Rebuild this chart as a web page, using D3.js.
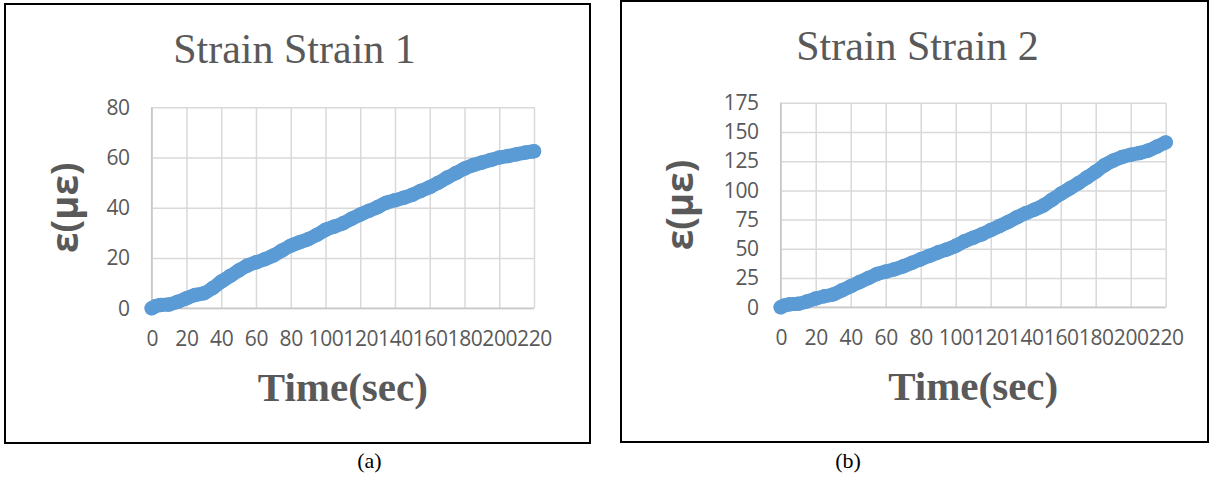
<!DOCTYPE html>
<html>
<head>
<meta charset="utf-8">
<script src="https://cdn.jsdelivr.net/npm/d3@7"></script>
<style>
  body { margin: 0; background: #fff; }
  svg { display: block; }
</style>
</head>
<body>
<div id="chart"></div>
<script>
"use strict";

// values
const timeSec = [0, 2, 5, 10, 15, 20, 25, 30, 35, 40, 45, 50, 55, 60, 65, 70, 75, 80, 85, 90, 95, 100,
  105, 110, 115, 120, 125, 130, 135, 140, 145, 150, 155, 160, 165, 170, 175, 180, 185, 190, 195, 200,
  205, 210, 215, 220];
const strain1 = [0, 0.8, 1.3, 1.5, 2.6, 4.0, 5.3, 6.0, 8.0, 10.6, 12.8, 15.0, 17.0, 18.3, 19.5, 21.0,
  23.0, 24.9, 26.3, 27.5, 29.2, 31.2, 32.5, 33.8, 35.6, 37.3, 38.8, 40.3, 42.0, 43.0, 44.0, 45.2, 46.8,
  48.2, 50.0, 52.0, 53.8, 55.6, 57.0, 58.0, 59.0, 60.0, 60.6, 61.3, 62.0, 62.5];
const strain2 = [0, 1.5, 2.5, 3.0, 5.0, 7.5, 9.5, 11.0, 14.5, 18.0, 21.5, 25.0, 28.5, 30.5, 32.5, 35.0,
  38.0, 41.0, 44.0, 47.0, 49.5, 52.5, 56.5, 59.5, 62.5, 66.0, 69.5, 73.0, 77.0, 80.5, 83.5, 87.0, 92.0,
  97.0, 101.5, 106.0, 111.0, 116.0, 121.5, 125.5, 128.5, 130.5, 132.0, 134.0, 137.5, 141.0];
const xTicks = [0, 20, 40, 60, 80, 100, 120, 140, 160, 180, 200, 220];
const yTicks1 = [0, 20, 40, 60, 80];
const yTicks2 = [0, 25, 50, 75, 100, 125, 150, 175];
const titles = ["Strain Strain 1", "Strain Strain 2"];
const captions = ["(a)", "(b)"];
const xTitle = "Time(sec)";
const yTitle = "ε(με)";

const width = 1213;
const height = 479;
const blue = "#5b9bd5";
const textGray = "#595959";

const panels = [
  {
    frame: { x: 5, y: 4, w: 585, h: 439 },
    plot: { l: 151.7, t: 107.3, r: 534, b: 308.3 },
    titleX: 294.5, titleY: 63, xTitleY: 401, yTitleX: 67, captionX: 369.5,
    values: strain1, yTicks: yTicks1, title: titles[0], caption: captions[0],
  },
  {
    frame: { x: 621, y: 1, w: 587, h: 441 },
    plot: { l: 780.7, t: 102.7, r: 1165.7, b: 307.3 },
    titleX: 917.5, titleY: 60, xTitleY: 400, yTitleX: 682, captionX: 848,
    values: strain2, yTicks: yTicks2, title: titles[1], caption: captions[1],
  },
];

const svg = d3.select("#chart").append("svg").attr("width", width).attr("height", height);

panels.forEach((p) => {
  const g = svg.append("g");

  g.append("rect")
    .attr("x", p.frame.x)
    .attr("y", p.frame.y)
    .attr("width", p.frame.w)
    .attr("height", p.frame.h)
    .attr("fill", "none")
    .attr("stroke", "#000")
    .attr("stroke-width", 2);

  const x = d3.scaleLinear().domain([xTicks[0], xTicks[xTicks.length - 1]]).range([p.plot.l, p.plot.r]);
  const y = d3.scaleLinear().domain([p.yTicks[0], p.yTicks[p.yTicks.length - 1]]).range([p.plot.b, p.plot.t]);
  const innerW = p.plot.r - p.plot.l;
  const innerH = p.plot.b - p.plot.t;

  const yAxis = g.append("g")
    .attr("transform", `translate(${p.plot.l},0)`)
    .call(d3.axisLeft(y).tickValues(p.yTicks).tickSize(-innerW).tickPadding(22));
  const xAxis = g.append("g")
    .attr("transform", `translate(0,${p.plot.b})`)
    .call(d3.axisBottom(x).tickValues(xTicks).tickSize(-innerH).tickPadding(23));

  [yAxis, xAxis].forEach((ax) => {
    ax.select(".domain").remove();
    ax.selectAll("line").attr("stroke", "#d9d9d9").attr("stroke-width", 1.5);
    ax.selectAll("text")
      .attr("fill", textGray)
      .style("font-family", "'Open Sans', sans-serif")
      .style("font-size", "21px")
      .style("letter-spacing", "-0.4px");
  });
  yAxis.selectAll("text").attr("dy", "0.32em");

  // plot-area left/bottom edges a touch darker
  g.append("line")
    .attr("x1", p.plot.l).attr("x2", p.plot.l).attr("y1", p.plot.t).attr("y2", p.plot.b)
    .attr("stroke", "#c8c8c8").attr("stroke-width", 1.5);
  g.append("line")
    .attr("x1", p.plot.l).attr("x2", p.plot.r).attr("y1", p.plot.b).attr("y2", p.plot.b)
    .attr("stroke", "#c8c8c8").attr("stroke-width", 1.5);

  const pts = timeSec.map((t, i) => ({ t, v: p.values[i] }));
  const line = d3.line().x((d) => x(d.t)).y((d) => y(d.v)).curve(d3.curveMonotoneX);

  g.append("path")
    .datum(pts)
    .attr("d", line)
    .attr("fill", "none")
    .attr("stroke", blue)
    .attr("stroke-width", 14)
    .attr("stroke-linecap", "round")
    .attr("stroke-linejoin", "round");

  g.append("g")
    .selectAll("circle")
    .data(pts)
    .join("circle")
    .attr("cx", (d) => x(d.t))
    .attr("cy", (d) => y(d.v))
    .attr("r", 7.3)
    .attr("fill", blue);

  g.append("text")
    .attr("x", p.titleX)
    .attr("y", p.titleY)
    .attr("text-anchor", "middle")
    .attr("fill", textGray)
    .style("font-family", "'Liberation Serif', 'Times New Roman', serif")
    .style("font-size", "42px")
    .text(p.title);

  g.append("text")
    .attr("x", (p.plot.l + p.plot.r) / 2)
    .attr("y", p.xTitleY)
    .attr("text-anchor", "middle")
    .attr("fill", textGray)
    .style("font-family", "'Liberation Serif', 'Times New Roman', serif")
    .style("font-weight", "bold")
    .style("font-size", "41px")
    .text(xTitle);

  g.append("text")
    .attr("transform", `translate(${p.yTitleX},${(p.plot.t + p.plot.b) / 2}) rotate(-90)`)
    .attr("text-anchor", "middle")
    .attr("dy", "0.3em")
    .attr("fill", textGray)
    .style("font-family", "'Open Sans', sans-serif")
    .style("font-weight", "bold")
    .style("font-size", "37px")
    .text(yTitle);

  svg.append("text")
    .attr("x", p.captionX)
    .attr("y", 468)
    .attr("text-anchor", "middle")
    .attr("fill", "#000")
    .style("font-family", "'Liberation Serif', 'Times New Roman', serif")
    .style("font-size", "22px")
    .text(p.caption);
});
</script>
</body>
</html>
